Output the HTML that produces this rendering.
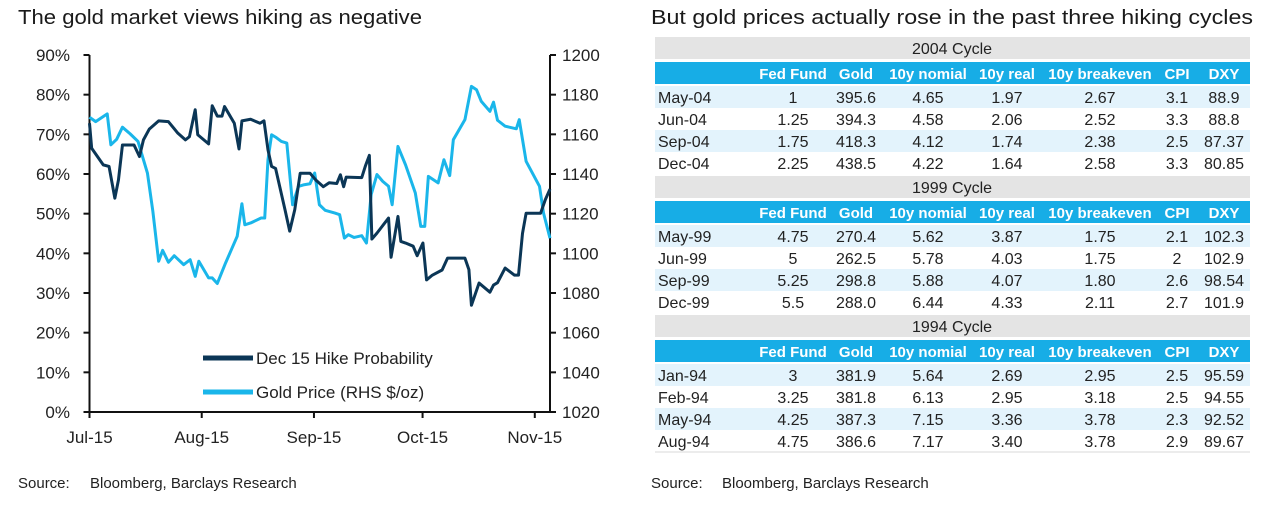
<!DOCTYPE html>
<html><head><meta charset="utf-8">
<style>
html,body{margin:0;padding:0;background:#fff;width:1264px;height:505px;overflow:hidden}
svg{display:block;font-family:"Liberation Sans",sans-serif}
</style></head>
<body>
<svg id="root" width="1264" height="505" viewBox="0 0 1264 505">
  <text x="18" y="24" font-size="20" fill="#1a1a1a" textLength="404" lengthAdjust="spacingAndGlyphs">The gold market views hiking as negative</text>
  <text x="651" y="24" font-size="20" fill="#1a1a1a" textLength="602" lengthAdjust="spacingAndGlyphs">But gold prices actually rose in the past three hiking cycles</text>
  <g id="chart"></g>
  <g id="table"></g>
  <text x="18" y="488" font-size="15" fill="#222">Source:</text>
  <text x="90" y="488" font-size="15" fill="#222">Bloomberg, Barclays Research</text>
  <text x="651" y="488" font-size="15" fill="#222">Source:</text>
  <text x="722" y="488" font-size="15" fill="#222">Bloomberg, Barclays Research</text>
</svg>
<script>
// ---- chart data ----
const probDays = [0,0.6,3.8,5.4,7.0,8.0,9.1,12.3,13.8,14.9,16.5,19.1,21.8,24.4,26.5,27.6,29.2,29.9,32.9,33.9,35.3,36.6,37.3,40.0,41.3,42.1,44.5,47.1,48.2,49.3,50.3,51.4,54.0,55.3,56.7,58.2,60.9,62.5,64.6,66.2,68.3,69.3,70.2,70.9,75.2,76.2,77.3,78.0,79.4,82.6,83.3,85.2,86.0,87.3,89.4,90.5,92.1,93.1,94.7,97.4,98.9,103.7,104.8,105.5,107.6,110.6,111.6,112.7,114.8,117.4,118.5,119.6,120.6,124.6,125.9,127.2];
const probValues = [72.8,66.5,62.3,61.9,53.9,58.5,67.3,67.3,64.4,68.6,71.3,73.4,73.2,70.3,68.6,69.4,76.2,69.9,67.6,77.2,74.6,74.6,77.0,72.8,66.3,73.4,73.8,72.8,73.4,66.1,61.9,61.4,51.0,45.6,51.0,60.2,60.2,58.5,56.8,57.8,57.6,59.8,56.8,59.2,59.1,62.0,64.7,43.6,45.1,48.9,39.0,49.3,43.0,42.6,41.8,39.4,42.6,33.3,34.5,35.8,38.8,38.8,35.9,26.9,32.5,30.2,32.0,32.6,36.3,34.5,34.5,45.0,50.1,50.1,53.5,56.2];
const goldDays = [0,1.7,4.9,5.9,7.5,9.1,11.2,13.4,14.9,16.0,17.5,19.1,20.2,21.8,23.4,26.0,27.8,29.2,30.2,32.9,33.9,35.3,37.6,39.2,40.8,42.1,42.9,44.5,47.4,48.4,49.3,50.3,51.4,53.0,54.5,56.1,57.7,59.3,60.9,62.2,63.5,65.1,67.8,69.1,70.4,71.5,73.1,75.2,76.5,77.8,79.4,81.0,82.6,83.6,85.2,87.3,90.0,91.5,92.6,93.6,96.3,97.9,99.5,100.5,103.7,105.5,106.9,108.2,110.6,111.6,112.7,114.8,117.9,118.7,120.6,124.3,125.4,127.2];
const goldValues = [1168.6,1166.4,1170.3,1154.7,1157.5,1163.6,1160.3,1156.4,1147.2,1140.5,1121.2,1096.0,1101.5,1095.5,1098.8,1094.3,1096.8,1088.4,1096.0,1087.6,1087.6,1084.8,1095.2,1101.9,1108.6,1125.0,1114.4,1115.3,1117.8,1117.8,1147.2,1159.8,1158.6,1156.4,1155.6,1124.5,1133.7,1134.6,1135.1,1140.5,1124.5,1121.7,1120.3,1119.5,1107.7,1109.4,1108.0,1108.9,1105.2,1129.6,1139.7,1136.3,1133.8,1124.5,1153.9,1144.6,1130.4,1113.6,1113.6,1138.8,1135.5,1147.2,1139.2,1157.3,1167.4,1184.2,1182.5,1176.7,1171.6,1176.2,1167.1,1164.1,1162.8,1167.4,1146.4,1133.8,1120.4,1107.6];
const leftTicks = [0,10,20,30,40,50,60,70,80,90];
const rightTicks = [1020,1040,1060,1080,1100,1120,1140,1160,1180,1200];
const monthLabels = ["Jul-15","Aug-15","Sep-15","Oct-15","Nov-15"];
const monthDays = [0,31,62,92,123];

const NS="http://www.w3.org/2000/svg";
function mk(tag, attrs, parent){const e=document.createElementNS(NS,tag);for(const k in attrs)e.setAttribute(k,attrs[k]);parent.appendChild(e);return e;}
const X0=89.5,X1=550,Y0=412,Y1=55,DMAX=127.2;
const xS=d=>X0+(d/DMAX)*(X1-X0);
const yL=v=>Y0-(v/90)*(Y0-Y1);
const yR=v=>Y0-((v-1020)/180)*(Y0-Y1);
const chart=document.getElementById('chart');

// axes
let a=mk('line',{x1:X0,y1:Y1,x2:X0,y2:Y0,stroke:'#111','stroke-width':2},chart);


a=mk('line',{x1:X1,y1:Y1,x2:X1,y2:Y0,stroke:'#111','stroke-width':2},chart);


a=mk('line',{x1:X0-6,y1:Y0,x2:X1+6,y2:Y0,stroke:'#111','stroke-width':2},chart);



leftTicks.forEach(v=>{
  const y=yL(v);
  mk('line',{x1:X0-6,y1:y,x2:X0,y2:y,stroke:'#111','stroke-width':2},chart);
  const t=mk('text',{x:70,y:y+6,'font-size':17,'text-anchor':'end',fill:'#222'},chart);
  t.textContent=v+'%';
  
  
});
rightTicks.forEach(v=>{
  const y=yR(v);
  mk('line',{x1:X1,y1:y,x2:X1+6,y2:y,stroke:'#111','stroke-width':2},chart);
  const t=mk('text',{x:562,y:y+6,'font-size':17,fill:'#222'},chart);
  t.textContent=v;
  
  
});
monthLabels.forEach((m,i)=>{
  const x=xS(monthDays[i]);
  mk('line',{x1:x,y1:Y0,x2:x,y2:Y0+6,stroke:'#111','stroke-width':2},chart);
  const t=mk('text',{x:x,y:443,'font-size':17,'text-anchor':'middle',fill:'#222'},chart);
  t.textContent=m;
  
  
});

let p=mk('polyline',{points:goldDays.map((d,i)=>xS(d)+','+yR(goldValues[i])).join(' '),fill:'none',stroke:'#1ab6ea','stroke-width':3,'stroke-linejoin':'round'},chart);


p=mk('polyline',{points:probDays.map((d,i)=>xS(d)+','+yL(probValues[i])).join(' '),fill:'none',stroke:'#0b3656','stroke-width':3,'stroke-linejoin':'round'},chart);



// legend
const lg=mk('g',{},chart);


let l=mk('line',{x1:203,y1:358,x2:253,y2:358,stroke:'#0b3656','stroke-width':5},lg);


let lt=mk('text',{x:256,y:364,'font-size':17,fill:'#222'},lg);lt.textContent='Dec 15 Hike Probability';


l=mk('line',{x1:203,y1:392,x2:253,y2:392,stroke:'#1ab6ea','stroke-width':5},lg);


lt=mk('text',{x:256,y:398,'font-size':17,fill:'#222'},lg);lt.textContent='Gold Price (RHS $/oz)';



// ---- table ----
const headers=["Fed Fund","Gold","10y nomial","10y real","10y breakeven","CPI","DXY"];
const cycles=["2004 Cycle","1999 Cycle","1994 Cycle"];
const rows=[
 [["May-04","1","395.6","4.65","1.97","2.67","3.1","88.9"],["Jun-04","1.25","394.3","4.58","2.06","2.52","3.3","88.8"],["Sep-04","1.75","418.3","4.12","1.74","2.38","2.5","87.37"],["Dec-04","2.25","438.5","4.22","1.64","2.58","3.3","80.85"]],
 [["May-99","4.75","270.4","5.62","3.87","1.75","2.1","102.3"],["Jun-99","5","262.5","5.78","4.03","1.75","2","102.9"],["Sep-99","5.25","298.8","5.88","4.07","1.80","2.6","98.54"],["Dec-99","5.5","288.0","6.44","4.33","2.11","2.7","101.9"]],
 [["Jan-94","3","381.9","5.64","2.69","2.95","2.5","95.59"],["Feb-94","3.25","381.8","6.13","2.95","3.18","2.5","94.55"],["May-94","4.25","387.3","7.15","3.36","3.78","2.3","92.52"],["Aug-94","4.75","386.6","7.17","3.40","3.78","2.9","89.67"]]
];
const colC=[null,793,856,928,1007,1100,1177,1224];
const TL=655,TR=1250;
const tb=document.getElementById('table');
cycles.forEach((c,b)=>{
  const top=37+b*139;
  const g=mk('rect',{x:TL,y:top,width:TR-TL,height:22,fill:'#e4e4e4'},tb);
  
  
  const ct=mk('text',{x:952,y:top+17,'font-size':16,'text-anchor':'middle',fill:'#222'},tb);ct.textContent=c;
  
  
  const h=mk('rect',{x:TL,y:top+25,width:TR-TL,height:22,fill:'#17ade6'},tb);
  
  
  headers.forEach((t,i)=>{
    const e=mk('text',{x:colC[i+1],y:top+42,'font-size':15,'font-weight':'bold','text-anchor':'middle',fill:'#fff'},tb);e.textContent=t;
    
    
  });
  rows[b].forEach((r,j)=>{
    const ry=top+49+j*22;
    const rr=mk('rect',{x:TL,y:ry,width:TR-TL,height:22,fill:j%2===0?'#e3f3fc':'#ffffff'},tb);
    
    
    r.forEach((v,i)=>{
      const e=mk('text',{x:i===0?658:colC[i],y:ry+17,'font-size':16,'text-anchor':i===0?'start':'middle',fill:'#222'},tb);e.textContent=v;
      
      
    });
  });
});
const bl=mk('line',{x1:TL,y1:452,x2:TR,y2:452,stroke:'#d8d8d8','stroke-width':1},tb);


</script>
</body></html>
